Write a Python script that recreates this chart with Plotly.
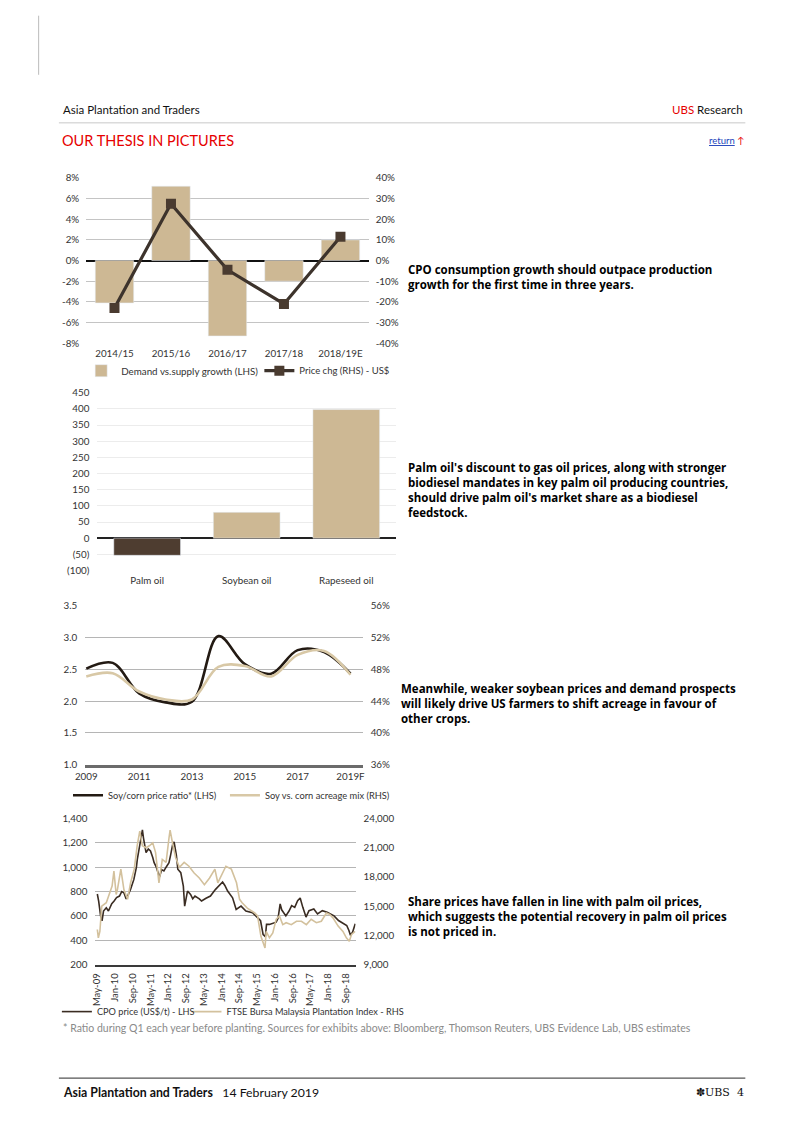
import plotly.graph_objects as go

W, H = 802, 1133
# map target page pixels to paper fractions (calibrated on the rendered output)
def px(x): return (x - 21.6) / 780.3
def py(y): return 1 - (y - 15.3) / 1119.4

FONT = "Lato"
TXT = "#333333"
TAN = "#cdb894"

# ---------- Chart 1 data ----------
c1_cats = ["2014/15", "2015/16", "2016/17", "2017/18", "2018/19E"]
c1_gap = [-4.1, 7.2, -7.3, -2.0, 2.0]          # % LHS
c1_price = [-23.0, 27.5, -4.5, -21.0, 11.5]    # % RHS
c1_lticks = [-8, -6, -4, -2, 0, 2, 4, 6, 8]
c1_ltext = ["-8%", "-6%", "-4%", "-2%", "0%", "2%", "4%", "6%", "8%"]
c1_rticks = [-40, -30, -20, -10, 0, 10, 20, 30, 40]
c1_rtext = ["-40%", "-30%", "-20%", "-10%", "0%", "10%", "20%", "30%", "40%"]

# ---------- Chart 2 data ----------
c2_cats = ["Palm oil", "Soybean oil", "Rapeseed oil"]
c2_vals = [-53, 80, 398]
c2_ticks = [-100, -50, 0, 50, 100, 150, 200, 250, 300, 350, 400, 450]
c2_text = ["(100)", "(50)", "0", "50", "100", "150", "200", "250", "300", "350", "400", "450"]

# ---------- Chart 3 data ----------
c3_years = [2009, 2010, 2011, 2012, 2013, 2014, 2015, 2016, 2017, 2018, 2019]
c3_ratio = [2.51, 2.60, 2.12, 1.98, 1.99, 3.02, 2.58, 2.43, 2.80, 2.77, 2.43]
c3_mix = [47.1, 47.5, 45.2, 44.2, 44.2, 48.3, 48.4, 47.1, 49.8, 50.3, 47.3]
c3_xticks = [2009, 2011, 2013, 2015, 2017, 2019]
c3_xtext = ["2009", "2011", "2013", "2015", "2017", "2019F"]
c3_lticks = [1.0, 1.5, 2.0, 2.5, 3.0, 3.5]
c3_ltext = ["1.0", "1.5", "2.0", "2.5", "3.0", "3.5"]
c3_rticks = [36, 40, 44, 48, 52, 56]
c3_rtext = ["36%", "40%", "44%", "48%", "52%", "56%"]

# ---------- Chart 4 data ----------
cpo_dates = ["2009-05-01", "2009-05-20", "2009-06-15", "2009-07-05", "2009-07-25", "2009-09-01",
             "2009-10-01", "2009-11-15", "2009-12-15", "2010-01-20", "2010-03-01", "2010-04-01",
             "2010-05-01", "2010-06-01", "2010-07-01", "2010-08-01", "2010-09-15", "2010-10-20",
             "2010-11-01", "2010-12-15", "2011-01-10", "2011-01-25", "2011-03-01", "2011-04-01",
             "2011-05-01", "2011-06-01", "2011-06-20", "2011-07-20", "2011-09-01", "2011-10-01",
             "2011-11-01", "2011-12-01", "2012-01-10", "2012-02-01", "2012-03-01", "2012-03-20",
             "2012-04-20", "2012-05-10", "2012-06-20", "2012-07-25", "2012-08-12", "2012-09-20",
             "2012-11-01", "2012-12-01", "2013-01-01", "2013-03-01", "2013-04-01", "2013-06-01",
             "2013-08-01", "2013-10-10", "2014-01-15", "2014-02-15", "2014-03-25", "2014-06-01",
             "2014-07-20", "2014-09-25", "2014-12-01", "2015-03-01", "2015-05-10", "2015-06-20",
             "2015-07-25", "2015-08-25", "2015-09-10", "2015-10-20", "2016-01-20", "2016-02-15",
             "2016-03-15", "2016-04-05", "2016-06-01", "2016-07-15", "2016-08-20", "2016-10-01",
             "2016-11-10", "2016-12-15", "2017-01-20", "2017-03-05", "2017-04-15", "2017-06-20",
             "2017-08-10", "2017-10-15", "2017-12-20", "2018-02-10", "2018-03-25", "2018-05-25",
             "2018-08-01", "2018-09-15", "2018-10-15", "2018-11-05", "2018-12-05", "2019-01-10"]
cpo_vals = [780, 720, 600, 560, 640, 667,
            640, 700, 720, 750, 763, 800,
            790, 740, 777, 820, 900, 1000,
            1065, 1220, 1307, 1240, 1120, 1150,
            1134, 1080, 1037, 1000, 920, 980,
            969, 1000, 1037, 1100, 1189, 1208,
            1100, 983, 955, 845, 680, 804,
            777, 740, 763, 740, 722, 745,
            763, 818, 878, 850, 804, 749,
            653, 680, 639, 626, 585, 560,
            447, 430, 530, 530, 548, 580,
            698, 650, 600, 640, 684, 670,
            725, 747, 670, 590, 643, 657,
            616, 643, 630, 616, 600, 562,
            535, 521, 480, 440, 467, 535]

ftse_dates = ["2009-05-01", "2009-05-15", "2009-06-05", "2009-07-01", "2009-09-01", "2009-10-10",
              "2009-11-20", "2009-12-15", "2010-01-15", "2010-02-01", "2010-03-20", "2010-05-01",
              "2010-06-20", "2010-08-01", "2010-09-20", "2010-10-30", "2010-12-05", "2011-01-10",
              "2011-03-01", "2011-04-15", "2011-06-01", "2011-07-10", "2011-08-25", "2011-10-10",
              "2011-12-01", "2012-01-10", "2012-01-25", "2012-03-01", "2012-04-10", "2012-06-01",
              "2012-08-05", "2012-10-10", "2012-12-20", "2013-03-01", "2013-05-10", "2013-07-20",
              "2013-10-01", "2013-11-10", "2014-01-25", "2014-03-01", "2014-05-15", "2014-07-25",
              "2014-09-05", "2014-10-10", "2014-12-20", "2015-04-01", "2015-05-10", "2015-06-25",
              "2015-08-20", "2015-09-05", "2015-10-20", "2015-12-05", "2016-01-20", "2016-03-05",
              "2016-04-20", "2016-06-05", "2016-08-15", "2016-10-25", "2017-01-01", "2017-03-10",
              "2017-05-15", "2017-07-25", "2017-10-01", "2017-12-10", "2018-01-25", "2018-03-10",
              "2018-05-20", "2018-07-25", "2018-09-10", "2018-10-20", "2018-11-20", "2019-01-10"]
ftse_vals = [12600, 11750, 12400, 15000, 15350, 16200,
             17070, 18600, 16200, 16700, 18800, 16700,
             15700, 17400, 18800, 21200, 22700, 21200,
             21000, 21200, 21500, 20500, 17400, 19800,
             19500, 22000, 22800, 21400, 20000, 19000,
             19500, 19100, 18400, 17900, 17200, 17900,
             18800, 17400, 18600, 19100, 18800, 17400,
             15700, 15350, 14800, 14300, 14000, 11900,
             10700, 12400, 11750, 12250, 13650, 14000,
             13100, 13300, 13100, 13450, 13450, 13100,
             13650, 13300, 13450, 14300, 14150, 13800,
             12950, 12400, 11750, 11400, 12100, 12400]
c4_xticks = ["2009-05-01", "2010-01-01", "2010-09-01", "2011-05-01", "2012-01-01", "2012-09-01",
             "2013-05-01", "2014-01-01", "2014-09-01", "2015-05-01", "2016-01-01", "2016-09-01",
             "2017-05-01", "2018-01-01", "2018-09-01"]
c4_lticks = [200, 400, 600, 800, 1000, 1200, 1400]
c4_ltext = ["200", "400", "600", "800", "1,000", "1,200", "1,400"]
c4_rticks = [9000, 12000, 15000, 18000, 21000, 24000]
c4_rtext = ["9,000", "12,000", "15,000", "18,000", "21,000", "24,000"]

fig = go.Figure()

# Chart 1
fig.add_trace(go.Bar(x=c1_cats, y=c1_gap, marker_color=TAN, width=0.68,
                     name="Demand vs.supply growth (LHS)", xaxis="x", yaxis="y", legend="legend"))
fig.add_trace(go.Scatter(x=c1_cats, y=c1_price, mode="lines+markers",
                         line=dict(color="#3d332c", width=3.2),
                         marker=dict(symbol="square", size=10, color="#4a3b30"),
                         name="Price chg (RHS) - US$", xaxis="x", yaxis="y2", legend="legend2"))
# Chart 2
fig.add_trace(go.Bar(x=c2_cats, y=c2_vals, marker_color=["#4e3d30", TAN, TAN], width=0.67,
                     showlegend=False, xaxis="x2", yaxis="y3"))
# Chart 3
fig.add_trace(go.Scatter(x=c3_years, y=c3_ratio, mode="lines",
                         line=dict(color="#231a13", width=2.6, shape="spline", smoothing=1.0),
                         name="Soy/corn price ratio* (LHS)", xaxis="x3", yaxis="y4", legend="legend3"))
fig.add_trace(go.Scatter(x=c3_years, y=c3_mix, mode="lines",
                         line=dict(color="#d8c8a6", width=2.6, shape="spline", smoothing=1.0),
                         name="Soy vs. corn acreage mix (RHS)", xaxis="x3", yaxis="y5", legend="legend4"))
# Chart 4
fig.add_trace(go.Scatter(x=ftse_dates, y=ftse_vals, mode="lines", line=dict(color="#d3c19d", width=1.6),
                         name="FTSE Bursa Malaysia Plantation Index - RHS",
                         xaxis="x4", yaxis="y7", legend="legend6"))
fig.add_trace(go.Scatter(x=cpo_dates, y=cpo_vals, mode="lines", line=dict(color="#3a2c22", width=1.6),
                         name="CPO price (US$/t) - LHS",
                         xaxis="x4", yaxis="y6", legend="legend5"))

tf = dict(family=FONT, size=9.8, color=TXT)
GRID = "#c4c4c4"


def leg(x_text, y_center, size):
    # x_text / y_center: where the legend text should start / sit on the page
    return dict(orientation="h", x=px(x_text - 37), y=py(y_center - 14), xanchor="left", yanchor="top",
                font=dict(family=FONT, size=size, color=TXT), bgcolor="rgba(0,0,0,0)",
                itemwidth=30, borderwidth=0)


fig.update_layout(
    width=W, height=H, margin=dict(l=0, r=0, t=0, b=0),
    paper_bgcolor="white", plot_bgcolor="white", font=dict(family=FONT, color=TXT),
    # chart 1
    xaxis=dict(domain=[px(89), px(368)], anchor="y", showgrid=False, showline=False, ticks="",
               tickfont=tf, range=[-0.5, 4.5], ticklabelstandoff=3),
    yaxis=dict(domain=[py(343), py(178)], anchor="x", range=[-8, 8], tickvals=c1_lticks, ticktext=c1_ltext,
               gridcolor=GRID, gridwidth=1, zeroline=True, zerolinecolor="#111111", zerolinewidth=1.5,
               tickfont=tf, ticks="", ticklabelstandoff=6),
    yaxis2=dict(overlaying="y", side="right", anchor="x", range=[-40, 40], tickvals=c1_rticks,
                ticktext=c1_rtext, showgrid=False, zeroline=False, tickfont=tf, ticks="", ticklabelstandoff=6),
    # chart 2
    xaxis2=dict(domain=[px(100), px(395)], anchor="y3", showgrid=False, showline=False, ticks="",
                tickfont=tf, range=[-0.5, 2.5], ticklabelstandoff=3),
    yaxis3=dict(domain=[py(570), py(392.5)], anchor="x2", range=[-100, 450], tickvals=c2_ticks, ticktext=c2_text,
                gridcolor="#ececec", zeroline=True, zerolinecolor="#222222", zerolinewidth=2,
                tickfont=tf, ticks="", ticklabelstandoff=7),
    # chart 3
    xaxis3=dict(domain=[px(88), px(362)], anchor="y4", range=[2008.96, 2019.46], tickvals=c3_xticks,
                ticktext=c3_xtext, showgrid=False, showline=True, linecolor="#6b6b6b", linewidth=3,
                ticks="", tickfont=tf, ticklabelstandoff=0),
    yaxis4=dict(domain=[py(764), py(605)], anchor="x3", range=[1.0, 3.5], tickvals=c3_lticks, ticktext=c3_ltext,
                gridcolor="#b5b5b5", zeroline=False, tickfont=tf, ticks="", ticklabelstandoff=7),
    yaxis5=dict(overlaying="y4", side="right", anchor="x3", range=[36, 56], tickvals=c3_rticks,
                ticktext=c3_rtext, showgrid=False, zeroline=False, tickfont=tf, ticks="", ticklabelstandoff=7),
    # chart 4
    xaxis4=dict(domain=[px(98), px(355)], anchor="y6", type="date", range=["2009-04-04", "2019-01-14"],
                tickvals=c4_xticks, tickformat="%b-%y", tickangle=-90, showgrid=False, showline=True,
                linecolor="#3a3a3a", linewidth=2, ticks="", tickfont=dict(family=FONT, size=9.5, color=TXT),
                ticklabelstandoff=3),
    yaxis6=dict(domain=[py(963.5), py(817.7)], anchor="x4", range=[200, 1400], tickvals=c4_lticks, ticktext=c4_ltext,
                gridcolor="#b5b5b5", zeroline=False, tickfont=tf, ticks="", ticklabelstandoff=7),
    yaxis7=dict(overlaying="y6", side="right", anchor="x4", range=[9000, 24000], tickvals=c4_rticks,
                ticktext=c4_rtext, showgrid=False, zeroline=False, tickfont=tf, ticks="", ticklabelstandoff=7),
    legend=leg(121, 370, 9.8),
    legend2=leg(297, 370, 9.5),
    legend3=leg(108, 794, 9.3),
    legend4=leg(263, 794, 9.3),
    legend5=leg(97, 1010, 9.2),
    legend6=leg(225, 1010, 9.2),
)

shapes = [
    dict(type="line", xref="paper", yref="paper", x0=px(62), x1=px(740), y0=py(123), y1=py(123),
         line=dict(color="#c8c8c8", width=1)),
    dict(type="line", xref="paper", yref="paper", x0=px(62), x1=px(740), y0=py(1077), y1=py(1077),
         line=dict(color="#555555", width=1.2)),
    dict(type="line", xref="paper", yref="paper", x0=px(42), x1=px(42), y0=py(16), y1=py(75),
         line=dict(color="#bbbbbb", width=1)),
]
fig.update_layout(shapes=shapes)

side = dict(family="Open Sans", size=11.5, color="#000000")
anns = [
    dict(x=px(64), y=py(110), text="Asia Plantation and Traders", xanchor="left", yanchor="middle",
         font=dict(family=FONT, size=11.5, color="#111")),
    dict(x=px(740), y=py(110), text='<span style="color:#e60000">UBS</span> Research', xanchor="right",
         yanchor="middle", font=dict(family=FONT, size=11.5, color="#111")),
    dict(x=px(63), y=py(141), text="OUR THESIS IN PICTURES", xanchor="left", yanchor="middle",
         font=dict(family=FONT, size=14.5, color="#e60000")),
    dict(x=px(741), y=py(141), text='<span style="color:#2244bb"><u>return</u></span> <span style="color:#e60000">↑</span>',
         xanchor="right", yanchor="middle", font=dict(family=FONT, size=9.5, color="#2244bb")),
    dict(x=px(405), y=py(260), text="<b>CPO consumption growth should outpace production<br>growth for the first time in three years.</b>",
         xanchor="left", yanchor="top", align="left", font=side),
    dict(x=px(405), y=py(458), text="<b>Palm oil's discount to gas oil prices, along with stronger<br>biodiesel mandates in key palm oil producing countries,<br>should drive palm oil's market share as a biodiesel<br>feedstock.</b>",
         xanchor="left", yanchor="top", align="left", font=side),
    dict(x=px(398), y=py(678), text="<b>Meanwhile, weaker soybean prices and demand prospects<br>will likely drive US farmers to shift acreage in favour of<br>other crops.</b>",
         xanchor="left", yanchor="top", align="left", font=side),
    dict(x=px(405), y=py(891), text="<b>Share prices have fallen in line with palm oil prices,<br>which suggests the potential recovery in palm oil prices<br>is not priced in.</b>",
         xanchor="left", yanchor="top", align="left", font=side),
    dict(x=px(64), y=py(1027), text="* Ratio during Q1 each year before planting. Sources for exhibits above: Bloomberg, Thomson Reuters, UBS Evidence Lab, UBS estimates",
         xanchor="left", yanchor="middle", font=dict(family=FONT, size=10.5, color="#8a8a8a")),
    dict(x=px(64), y=py(1091), text="<b>Asia Plantation and Traders</b>   14 February 2019", xanchor="left",
         yanchor="middle", font=dict(family=FONT, size=12.3, color="#111")),
    dict(x=px(741), y=py(1091), text="✽UBS  4", xanchor="right", yanchor="middle",
         font=dict(family="DejaVu Serif", size=11, color="#111")),
]
for a in anns:
    a.update(xref="paper", yref="paper", showarrow=False)
fig.update_layout(annotations=anns)

fig.write_html("out.html")
